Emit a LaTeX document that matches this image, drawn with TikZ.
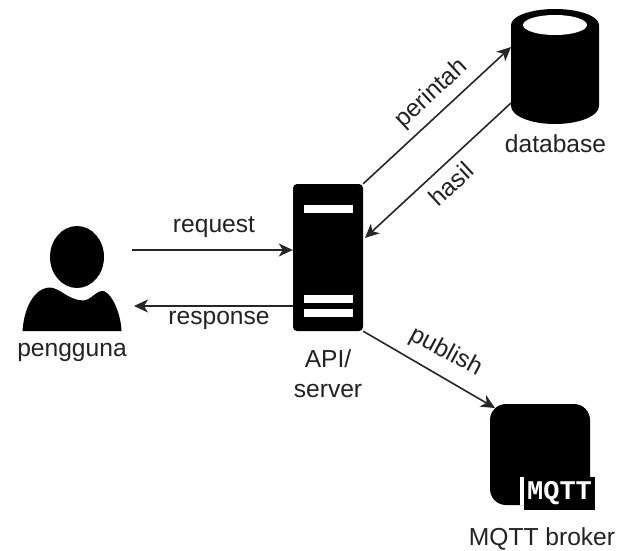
\documentclass[tikz,border=0pt]{standalone}
\usepackage{fontspec}
\setmainfont{Liberation Sans}
\newfontfamily\mqttfont{Liberation Mono}
\usetikzlibrary{arrows.meta,shapes.geometric}
\definecolor{lbl}{HTML}{222222}
\tikzset{
  x=1pt,y=-1pt,
  conn/.style={line width=1.6pt,draw=black!85,-{Stealth[length=14pt,width=13pt,inset=4pt]}},
  lab/.style={font=\fontsize{24.6}{30}\selectfont,text=lbl,inner sep=0pt,align=center},
  iconbox/.style={fill=black,inner sep=0pt,draw=none},
  slot/.style={fill=white,draw=none,inner sep=0pt,minimum width=49pt,minimum height=8pt},
  anchorbox/.style={inner sep=0pt,draw=none},
}
\begin{document}
\begin{tikzpicture}
\useasboundingbox (0,0) rectangle (626,551);
% server
\node[iconbox,rounded corners=4pt,minimum width=70pt,minimum height=147pt] (server) at (328,257.5) {};
\node[slot] (s1) at (328.5,209) {};
\node[slot] (s2) at (328.5,299) {};
\node[slot] (s3) at (328.5,313) {};
% database
\node[anchorbox,minimum width=88pt,minimum height=115pt] (db) at (555,66.5) {};
\fill[black] (511,25) arc[start angle=180,end angle=0,x radius=44pt,y radius=16pt]
  -- (599,106) arc[start angle=0,end angle=-180,x radius=44pt,y radius=18pt] -- cycle;
\node[ellipse,fill=white,inner sep=0pt,minimum width=64pt,minimum height=20pt] (dbtop) at (555,25) {};
% person
\node[ellipse,fill=black,inner sep=0pt,minimum width=54pt,minimum height=62pt] (head) at (77,257) {};
\node[anchorbox,minimum width=99pt,minimum height=44pt] (body) at (72,309) {};
\fill[black] (22.5,331) .. controls (24,308) and (34,288) .. (50,287.5) .. controls (60,288) and (68,300) .. (83,300.5)
  .. controls (92,300) and (96,290) .. (104,291) .. controls (113,295) and (121,315) .. (121.5,331) -- cycle;
% broker
\node[iconbox,rounded corners=16pt,minimum width=100pt,minimum height=101pt] (broker) at (540,454.5) {};
\fill[white] (520,477) rectangle (524,505);
\node[iconbox,minimum width=71pt,minimum height=33pt,text=white,font=\mqttfont\bfseries\fontsize{27}{27}\selectfont] (tag) at (559.5,493.5) {MQTT};
% labels
\node[lab] (lu) at (72,352.5) {pengguna};
\node[lab] (ls) at (328,374) {API/\\server};
\node[lab] (ld) at (555.5,143.5) {database};
\node[lab] (lb) at (542,539) {MQTT broker};
% connectors
\coordinate (reqstart) at (132,250);
\coordinate (respend) at (134,306);
\draw[conn] (reqstart) -- (server.west|-reqstart);
\draw[conn] (server.west|-respend) -- (respend);
\coordinate (dbin) at (511,47);
\coordinate (dbout) at (511,103);
\coordinate (srvin) at (365,238);
\coordinate (brin) at (495,408);
\draw[conn] (server.north east) -- (dbin);
\draw[conn] (dbout) -- (srvin);
\draw[conn] (server.south east) -- (brin);
\node[lab] (l1) at (214,227) {request};
\node[lab] (l2) at (219,320) {response};
\node[lab,rotate=43] (l3) at (432,94) {perintah};
\node[lab,rotate=43] (l4) at (451,184) {hasil};
\node[lab,rotate=-28] (l5) at (446,352) {publish};
\end{tikzpicture}
\end{document}
